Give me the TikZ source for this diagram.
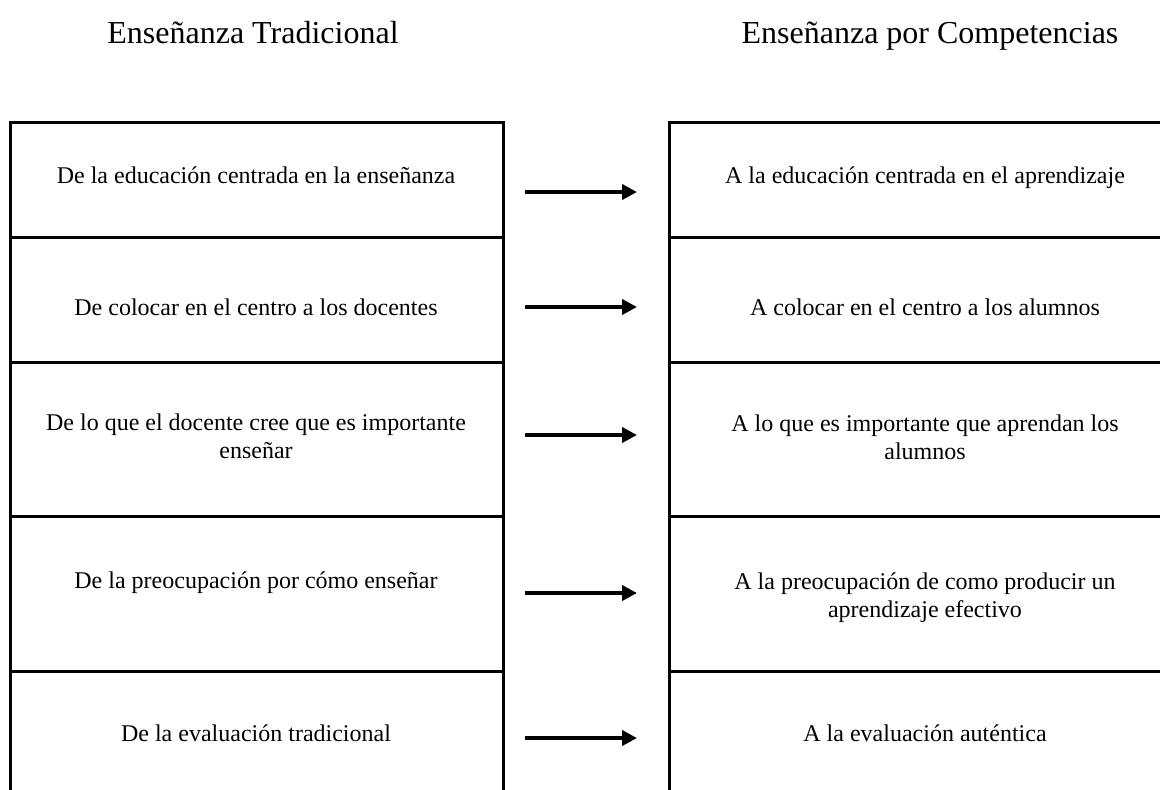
\documentclass[tikz,border=0pt]{standalone}
\usepackage{fontspec}
\setmainfont{Liberation Serif}
\usetikzlibrary{arrows.meta}
\begin{document}
\begin{tikzpicture}[x=0.5pt,y=-0.5pt,
  celltext/.style={anchor=base, inner sep=0pt, align=center, font=\fontsize{12}{13.8}\selectfont},
  ttl/.style={anchor=base, inner sep=0pt, font=\fontsize{16}{18.4}\selectfont},
  rule/.style={line width=1.5pt},
  arr/.style={line width=2pt, -{Triangle[length=7.5pt,width=7.5pt]}}]
\useasboundingbox (0,0) rectangle (1160,789);
\clip (0,0) rectangle (1160,789);
% titles
\node[ttl] (t1) at (253,43) {Enseñanza Tradicional};
\node[ttl] (t2) at (930,43) {Enseñanza por Competencias};
% left table
\draw[rule] (10,820) -- (10,122) -- (503,122) -- (503,820);
\foreach \yy in {237,362,516,671} \draw[rule] (10,\yy) -- (503,\yy);
% right table
\draw[rule] (669,820) -- (669,122) -- (1200,122) -- (1200,820);
\foreach \yy in {237,362,516,671} \draw[rule] (669,\yy) -- (1200,\yy);
% left texts
\node[celltext] (l1) at (256,183) {De la educación centrada en la enseñanza};
\node[celltext] (l2) at (256,315) {De colocar en el centro a los docentes};
\node[celltext] (l3) at (256,458) {De lo que el docente cree que es importante\\enseñar};
\node[celltext] (l4) at (256,588) {De la preocupación por cómo enseñar};
\node[celltext] (l5) at (256,741) {De la evaluación tradicional};
% right texts
\node[celltext] (r1) at (925,183) {A la educación centrada en el aprendizaje};
\node[celltext] (r2) at (925,315) {A colocar en el centro a los alumnos};
\node[celltext] (r3) at (925,459) {A lo que es importante que aprendan los\\alumnos};
\node[celltext] (r4) at (925,617) {A la preocupación de como producir un\\aprendizaje efectivo};
\node[celltext] (r5) at (925,741) {A la evaluación auténtica};
% arrows
\foreach \i/\yy in {1/192,2/307,3/435,4/593,5/738}{
  \coordinate (s\i) at (525,\yy);
  \coordinate (e\i) at (637,\yy);
  \draw[arr] (s\i) -- (e\i);
}
\end{tikzpicture}
\end{document}
